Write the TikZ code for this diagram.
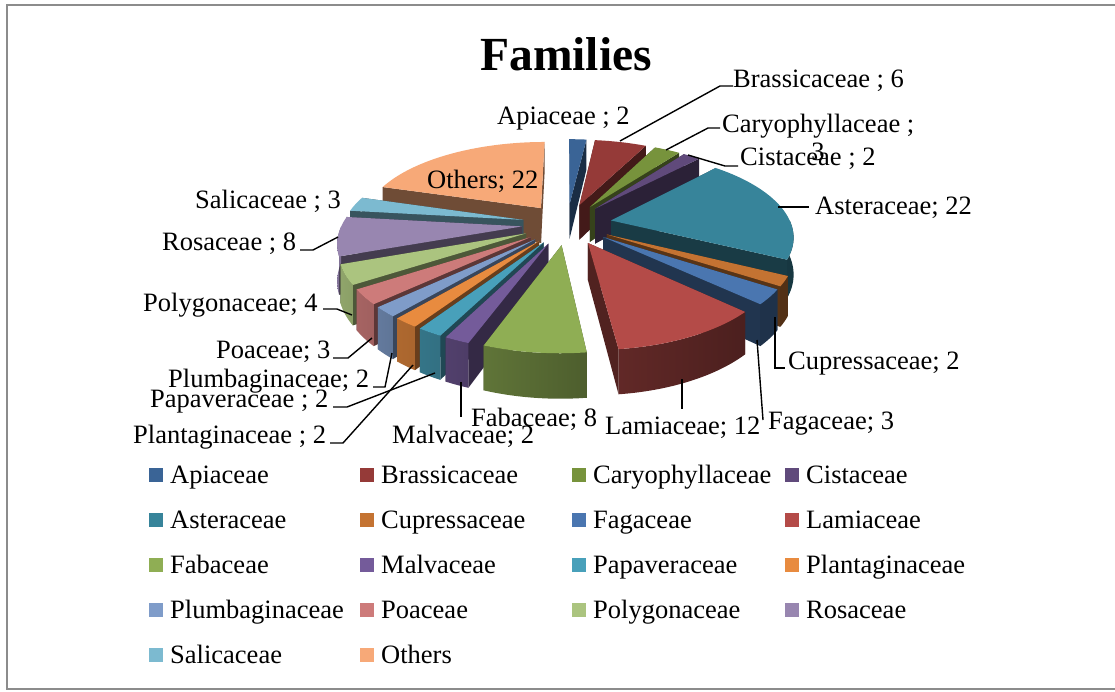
\documentclass[tikz,border=0pt]{standalone}
\usepackage{fontspec}
\setmainfont{Liberation Serif}
\definecolor{cApi}{HTML}{3A6496}
\definecolor{cBra}{HTML}{953A38}
\definecolor{cCar}{HTML}{77933C}
\definecolor{cCis}{HTML}{604A7B}
\definecolor{cAst}{HTML}{37849A}
\definecolor{cCup}{HTML}{C47332}
\definecolor{cFag}{HTML}{4A76B0}
\definecolor{cLam}{HTML}{B44B48}
\definecolor{cFab}{HTML}{8FAE54}
\definecolor{cMal}{HTML}{745B9A}
\definecolor{cPap}{HTML}{48A0BA}
\definecolor{cPla}{HTML}{E88B3F}
\definecolor{cPlu}{HTML}{7F9CC9}
\definecolor{cPoa}{HTML}{CD7B7A}
\definecolor{cPol}{HTML}{ABC47F}
\definecolor{cRos}{HTML}{9886B0}
\definecolor{cSal}{HTML}{7CBAD0}
\definecolor{cOth}{HTML}{F7A978}
\definecolor{frame}{HTML}{8C8C8C}
\newcommand\lblfont{\fontsize{26.5}{30}\selectfont}
\newcommand\pieth{36}
\newcommand\radface[2]{%
  \fill[#2] ({PX(\pmid,#1,0)},{PY(\pmid,#1,0,0)}) -- ({PX(\pmid,#1,1)},{PY(\pmid,#1,1,0)})
    -- ({PX(\pmid,#1,1)},{PY(\pmid,#1,1,\pieth)}) -- ({PX(\pmid,#1,0)},{PY(\pmid,#1,0,\pieth)}) -- cycle;}
\newcommand\pieslice[5]{%
  \pgfmathsetmacro\pmid{(#1+#2)/2}%
  \ifdim\pmid pt<180pt
    \radface{#1}{#3!45!black}\radface{#2}{#3!45!black}%
  \else
    \radface{#2}{#3!45!black}\radface{#1}{#3!45!black}%
  \fi
  \ifdim #4pt<#5pt
    \pgfmathtruncatemacro\wL{max(42,58+28*sin(#5-180))}%
    \pgfmathtruncatemacro\wR{max(42,58+28*sin(#4-180))}%
    \shade[left color=#3!\wL!black,right color=#3!\wR!black]
      plot[domain=#4:#5,samples=40] ({PX(\pmid,\x,1)},{PY(\pmid,\x,1,0)})
      -- plot[domain=#5:#4,samples=40] ({PX(\pmid,\x,1)},{PY(\pmid,\x,1,\pieth)}) -- cycle;
  \fi
  \fill[#3] ({PX(\pmid,#1,0)},{PY(\pmid,#1,0,0)}) -- plot[domain=#1:#2,samples=40] ({PX(\pmid,\x,1)},{PY(\pmid,\x,1,0)}) -- cycle;
}
\begin{document}
\begin{tikzpicture}[x=1pt,y=-1pt,
  declare function={
    eu(\ma)=0.25*sin(\ma);
    ev(\ma)=-0.25*cos(\ma);
    Uu(\ma,\ta,\ra)=eu(\ma)+\ra*sin(\ta);
    Vv(\ma,\ta,\ra)=ev(\ma)-\ra*cos(\ta);
    Pp(\ma,\ta,\ra)=6/(6-Vv(\ma,\ta,\ra));
    PX(\ma,\ta,\ra)=567+180*Uu(\ma,\ta,\ra)*Pp(\ma,\ta,\ra);
    PY(\ma,\ta,\ra,\ha)=224+(82*Vv(\ma,\ta,\ra)+\ha)*Pp(\ma,\ta,\ra);
  },
  lbl/.style={anchor=base west,inner sep=0pt,font=\lblfont},
  leader/.style={draw=black,line width=1.4pt},
  key/.style={minimum size=14pt,inner sep=0pt,anchor=north west}]
\useasboundingbox (0,0) rectangle (1115,691);
\fill[white] (0,0) rectangle (1115,691);
\draw[frame,line width=2pt] (1116,4.5) -- (6.5,4.5) -- (6.5,689) -- (1116,689);

% title
\node[anchor=base,inner sep=0pt,font=\fontsize{47.5}{50}\selectfont\bfseries] (title) at (566,70) {Families};

% pie slices, back to front
\pieslice{0}{6.6667}{cApi}{90}{6.6667}
\pieslice{6.6667}{26.6667}{cBra}{90}{26.6667}
\pieslice{26.6667}{36.6667}{cCar}{90}{36.6667}
\pieslice{286.6667}{360}{cOth}{290}{270}
\pieslice{36.6667}{43.3333}{cCis}{90}{43.3333}
\pieslice{276.6667}{286.6667}{cSal}{290}{270}
\pieslice{43.3333}{116.6667}{cAst}{90}{116.6667}
\pieslice{250}{276.6667}{cRos}{250}{270}
\pieslice{236.6667}{250}{cPol}{236.6667}{250}
\pieslice{116.6667}{123.3333}{cCup}{116.6667}{123.3333}
\pieslice{123.3333}{133.3333}{cFag}{123.3333}{133.3333}
\pieslice{226.6667}{236.6667}{cPoa}{226.6667}{236.6667}
\pieslice{220}{226.6667}{cPlu}{220}{226.6667}
\pieslice{213.3333}{220}{cPla}{213.3333}{220}
\pieslice{206.6667}{213.3333}{cPap}{206.6667}{213.3333}
\pieslice{133.3333}{173.3333}{cLam}{133.3333}{173.3333}
\pieslice{200}{206.6667}{cMal}{200}{206.6667}
\pieslice{173.3333}{200}{cFab}{173.3333}{200}

% data labels
\node[lbl] (tApi) at (497,124) {Apiaceae ; 2};
\node[lbl] (tBra) at (733,87) {Brassicaceae ; 6};
\node[lbl] (tCar) at (722,132) {Caryophyllaceae ;};
\node[lbl,anchor=base] (tCarb) at (818,160) {3};
\node[lbl] (tCis) at (740,165) {Cistaceae ; 2};
\node[lbl] (tAst) at (815,214) {Asteraceae; 22};
\node[lbl] (tCup) at (788,369) {Cupressaceae; 2};
\node[lbl] (tFag) at (768,429) {Fagaceae; 3};
\node[lbl] (tLam) at (605,434) {Lamiaceae; 12};
\node[lbl] (tFab) at (471,426) {Fabaceae; 8};
\node[lbl] (tMal) at (392,443) {Malvaceae; 2};
\node[lbl] (tOth) at (427,188) {Others; 22};
\node[lbl] (tSal) at (195,208) {Salicaceae ; 3};
\node[lbl] (tRos) at (162,250) {Rosaceae ; 8};
\node[lbl] (tPol) at (143,311) {Polygonaceae; 4};
\node[lbl] (tPoa) at (216,358) {Poaceae; 3};
\node[lbl] (tPlu) at (168,387) {Plumbaginaceae; 2};
\node[lbl] (tPap) at (150,407) {Papaveraceae ; 2};
\node[lbl] (tPla) at (133,443) {Plantaginaceae ; 2};

% leader lines
\coordinate (sBra) at (620,141); \coordinate (kBra) at (720,86); \coordinate (eBra) at (733,86);
\coordinate (sCar) at (666,150); \coordinate (kCar) at (708,128); \coordinate (eCar) at (720,128);
\coordinate (sCis) at (688,155); \coordinate (kCis) at (725,166); \coordinate (eCis) at (738,166);
\coordinate (sAst) at (778,207); \coordinate (eAst) at (809,207);
\coordinate (sCup) at (775,317); \coordinate (kCup) at (775,368); \coordinate (eCup) at (785,368);
\coordinate (sFag) at (757,340); \coordinate (eFag) at (763,420);
\coordinate (sLam) at (682,379); \coordinate (eLam) at (682,409);
\coordinate (sMal) at (461,382); \coordinate (eMal) at (461,417);
\coordinate (sPla) at (413,365); \coordinate (kPla) at (343,443); \coordinate (ePla) at (330,443);
\coordinate (sPap) at (435,373); \coordinate (kPap) at (347,407); \coordinate (ePap) at (333,407);
\coordinate (sPlu) at (392,353); \coordinate (kPlu) at (385,387); \coordinate (ePlu) at (373,387);
\coordinate (sPoa) at (372,338); \coordinate (kPoa) at (348,358); \coordinate (ePoa) at (333,358);
\coordinate (sPol) at (352,315); \coordinate (kPol) at (337,309); \coordinate (ePol) at (323,309);
\coordinate (sRos) at (338,237); \coordinate (kRos) at (313,250); \coordinate (eRos) at (300,250);
\draw[leader] (sBra) -- (kBra) -- (eBra);
\draw[leader] (sCar) -- (kCar) -- (eCar);
\draw[leader] (sCis) -- (kCis) -- (eCis);
\draw[leader] (sAst) -- (eAst);
\draw[leader] (sCup) -- (kCup) -- (eCup);
\draw[leader] (sFag) -- (eFag);
\draw[leader] (sLam) -- (eLam);
\draw[leader] (sMal) -- (eMal);
\draw[leader] (sPla) -- (kPla) -- (ePla);
\draw[leader] (sPap) -- (kPap) -- (ePap);
\draw[leader] (sPlu) -- (kPlu) -- (ePlu);
\draw[leader] (sPoa) -- (kPoa) -- (ePoa);
\draw[leader] (sPol) -- (kPol) -- (ePol);
\draw[leader] (sRos) -- (kRos) -- (eRos);

% legend
\foreach \c/\t/\px/\py [count=\i] in {
  cApi/Apiaceae/170/483, cBra/Brassicaceae/381/483, cCar/Caryophyllaceae/593/483, cCis/Cistaceae/806/483,
  cAst/Asteraceae/170/528, cCup/Cupressaceae/381/528, cFag/Fagaceae/593/528, cLam/Lamiaceae/806/528,
  cFab/Fabaceae/170/573, cMal/Malvaceae/381/573, cPap/Papaveraceae/593/573, cPla/Plantaginaceae/806/573,
  cPlu/Plumbaginaceae/170/618, cPoa/Poaceae/381/618, cPol/Polygonaceae/593/618, cRos/Rosaceae/806/618,
  cSal/Salicaceae/170/663, cOth/Others/381/663}{
  \node[key,fill=\c] (k\i) at (\px-21,\py-15) {};
  \node[lbl] (l\i) at (\px,\py) {\t};
}
\end{tikzpicture}
\end{document}
